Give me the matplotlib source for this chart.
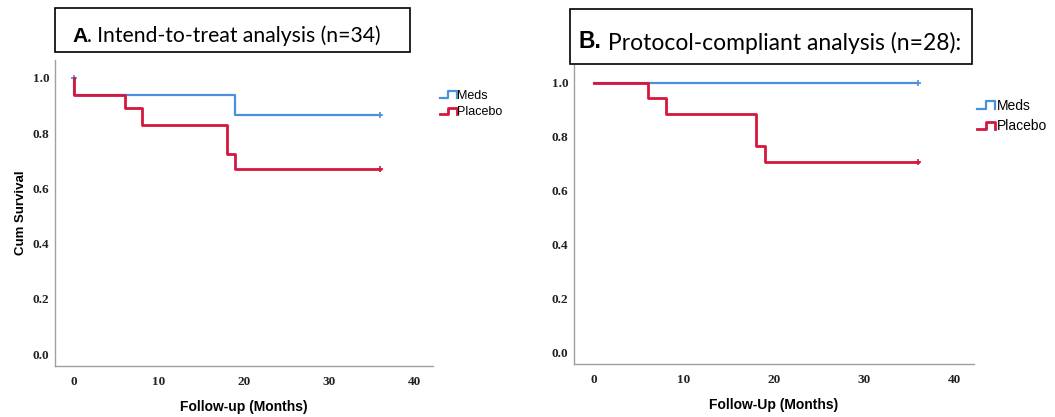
import matplotlib
matplotlib.use('Agg')
import matplotlib.pyplot as plt
from matplotlib.lines import Line2D
from matplotlib.patches import Rectangle
from matplotlib.legend_handler import HandlerBase

# Panel A: intend-to-treat (n=34)
a_meds_t = [0, 0, 19, 36]
a_meds_s = [1.0, 0.94, 0.865, 0.865]
a_meds_cens_t = [0, 36]
a_meds_cens_s = [1.0, 0.865]
a_plac_t = [0, 0, 6, 8, 18, 19, 36]
a_plac_s = [1.0, 0.94, 0.89, 0.83, 0.725, 0.67, 0.67]
a_plac_cens_t = [36]
a_plac_cens_s = [0.67]

# Panel B: protocol-compliant (n=28)
b_meds_t = [0, 36]
b_meds_s = [1.0, 1.0]
b_meds_cens_t = [36]
b_meds_cens_s = [1.0]
b_plac_t = [0, 6, 8, 18, 19, 36]
b_plac_s = [1.0, 0.941, 0.882, 0.765, 0.706, 0.706]
b_plac_cens_t = [36]
b_plac_cens_s = [0.706]

groups = ['Meds', 'Placebo']
x_ticks = [0, 10, 20, 30, 40]
y_ticks = [0.0, 0.2, 0.4, 0.6, 0.8, 1.0]

blue = '#4A90DC'
red = '#D5163E'
spine_col = '#A0A0A0'

W, H = 1055, 417


class StepHandler(HandlerBase):
    # little step icon like the SPSS legend
    def create_artists(self, legend, orig_handle, xdescent, ydescent,
                       width, height, fontsize, trans):
        x0 = -xdescent
        y0 = -ydescent
        xs = [x0, x0 + 0.45 * width, x0 + 0.45 * width, x0 + 0.95 * width, x0 + 0.95 * width]
        ys = [y0 + 0.15 * height, y0 + 0.15 * height, y0 + 0.9 * height, y0 + 0.9 * height, y0 + 0.15 * height]
        ln = Line2D(xs, ys, color=orig_handle.get_color(), lw=orig_handle.get_linewidth(),
                    transform=trans)
        return [ln]


def px_rect(x0, y0, x1, y1):
    return [x0 / W, 1 - y1 / H, (x1 - x0) / W, (y1 - y0) / H]


def km_panel(ax, meds, plac, xlabel, ylabel, leg_pos, leg_size, leg_space):
    mt, ms, mct, mcs = meds
    pt, ps, pct, pcs = plac
    l1, = ax.step(mt, ms, where='post', color=blue, lw=1.6)
    ax.plot(mct, mcs, '+', color=blue, ms=5, mew=1.2)
    l2, = ax.step(pt, ps, where='post', color=red, lw=2.0)
    ax.plot(pct, pcs, '+', color=red, ms=5, mew=1.2)
    ax.set_xlim(-2.2, 42.2)
    ax.set_ylim(-0.043, 1.065)
    ax.set_xticks(x_ticks)
    ax.set_yticks(y_ticks)
    ax.set_yticklabels(['%.1f' % v for v in y_ticks])
    for s in ['top', 'right']:
        ax.spines[s].set_visible(False)
    for s in ['left', 'bottom']:
        ax.spines[s].set_color(spine_col)
        ax.spines[s].set_linewidth(1.0)
    ax.tick_params(axis='both', length=0, labelsize=9.5)
    ax.tick_params(axis='x', pad=7)
    ax.tick_params(axis='y', pad=4)
    for lab in ax.get_xticklabels() + ax.get_yticklabels():
        lab.set_fontfamily('Liberation Serif')
        lab.set_fontweight('bold')
        lab.set_color('#222222')
    ax.set_xlabel(xlabel, fontsize=10, fontweight='bold', family='Liberation Sans', labelpad=9)
    if ylabel:
        ax.set_ylabel(ylabel, fontsize=9.5, fontweight='bold', family='Liberation Sans')
    leg = ax.legend([l1, l2], groups, loc='upper left', bbox_to_anchor=leg_pos,
                    bbox_transform=fig.transFigure, frameon=False,
                    handler_map={Line2D: StepHandler()},
                    prop={'family': 'Liberation Sans', 'size': leg_size},
                    handlelength=1.4, handletextpad=0.0, labelspacing=leg_space,
                    borderpad=0, borderaxespad=0)
    return leg


fig = plt.figure(figsize=(W / 100, H / 100), dpi=100)

ax1 = fig.add_axes(px_rect(55, 60, 433, 366))
km_panel(ax1, (a_meds_t, a_meds_s, a_meds_cens_t, a_meds_cens_s),
         (a_plac_t, a_plac_s, a_plac_cens_t, a_plac_cens_s),
         'Follow-up (Months)', 'Cum Survival', (440 / W, 1 - 90 / H), 9, 0.35)
ax1.yaxis.set_label_coords(-0.073, 0.5)

ax2 = fig.add_axes(px_rect(574, 65, 974, 364))
km_panel(ax2, (b_meds_t, b_meds_s, b_meds_cens_t, b_meds_cens_s),
         (b_plac_t, b_plac_s, b_plac_cens_t, b_plac_cens_s),
         'Follow-Up (Months)', None, (977 / W, 1 - 99 / H), 10, 0.45)

# boxed titles
fig.patches.append(Rectangle((55 / W, 1 - 52 / H), 355 / W, 44 / H, transform=fig.transFigure,
                             fill=False, edgecolor='black', lw=1.2))
fig.patches.append(Rectangle((570 / W, 1 - 64 / H), 402 / W, 55 / H, transform=fig.transFigure,
                             fill=False, edgecolor='black', lw=1.2))

t1 = fig.text(72 / W, 1 - 41.5 / H, 'A', fontsize=15.2, fontweight='bold',
              family='Liberation Sans', va='baseline')
fig.add_artist(plt.Annotation('. Intend-to-treat analysis (n=34)', xy=(1, 0), xycoords=t1,
                              va='bottom', fontsize=15.2, family='Lato'))

t2 = fig.text(579 / W, 1 - 48.5 / H, 'B.', fontsize=16.5, fontweight='bold',
              family='Liberation Sans', va='baseline')
fig.add_artist(plt.Annotation(' Protocol-compliant analysis (n=28):', xy=(1, 0), xycoords=t2,
                              va='bottom', fontsize=16.5, family='Lato'))

plt.savefig('out.png', dpi=100)
